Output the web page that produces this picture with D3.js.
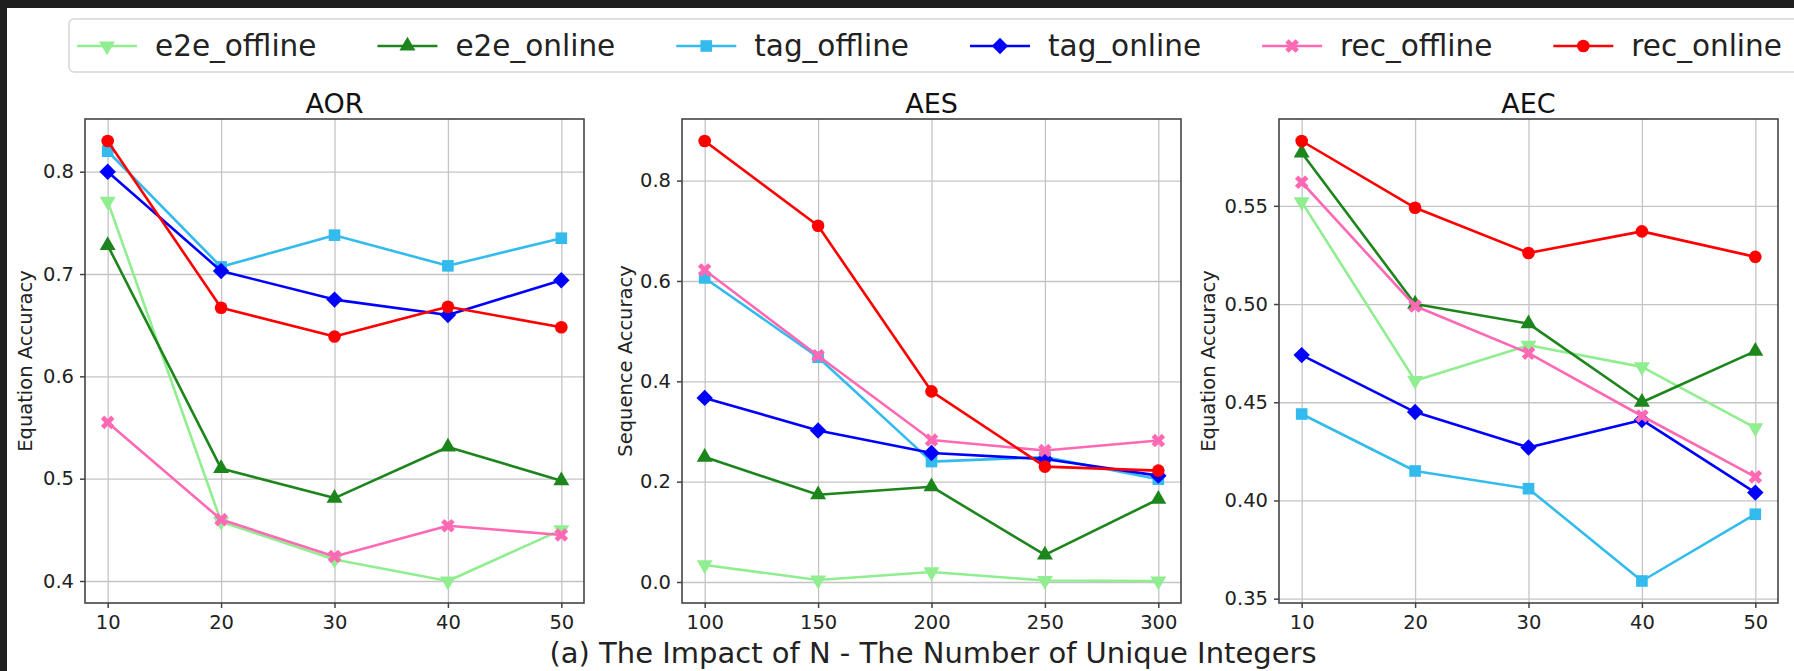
<!DOCTYPE html>
<html>
<head>
<meta charset="utf-8">
<script src="https://cdn.jsdelivr.net/npm/d3@7"></script>
<style>
  body { margin: 0; background: #fff; }
  svg { display: block; font-family: 'DejaVu Sans', sans-serif; }
</style>
</head>
<body>
<svg id="canvas" width="1794" height="671"></svg>
<script>
let seriesNames = ['e2e_offline', 'e2e_online', 'tag_offline', 'tag_online', 'rec_offline', 'rec_online']
let seriesColors = ['#90ee90', '#1c861c', '#33bbee', '#0000ff', '#ff69b4', '#ff0000']
let seriesMarkers = ['triangleDown', 'triangleUp', 'square', 'diamond', 'x', 'circle']

let panelTitles = ['AOR', 'AES', 'AEC']
let panelYLabels = ['Equation Accuracy', 'Sequence Accuracy', 'Equation Accuracy']
let captionText = '(a) The Impact of N - The Number of Unique Integers'

// AOR
let aorX = [10, 20, 30, 40, 50]
let aorValues = [
  [0.771, 0.458, 0.421, 0.400, 0.450],
  [0.728, 0.510, 0.481, 0.531, 0.498],
  [0.820, 0.707, 0.738, 0.708, 0.735],
  [0.800, 0.703, 0.675, 0.660, 0.694],
  [0.555, 0.460, 0.424, 0.454, 0.445],
  [0.830, 0.667, 0.639, 0.668, 0.648]
]
let aorYTicks = [0.4, 0.5, 0.6, 0.7, 0.8]

// AES
let aesX = [100, 150, 200, 250, 300]
let aesValues = [
  [0.034, 0.004, 0.020, 0.003, 0.002],
  [0.249, 0.174, 0.190, 0.054, 0.165],
  [0.606, 0.448, 0.240, 0.249, 0.205],
  [0.367, 0.302, 0.257, 0.245, 0.212],
  [0.622, 0.451, 0.283, 0.262, 0.282],
  [0.879, 0.710, 0.380, 0.230, 0.222]
]
let aesYTicks = [0.0, 0.2, 0.4, 0.6, 0.8]

// AEC
let aecX = [10, 20, 30, 40, 50]
let aecValues = [
  [0.552, 0.461, 0.479, 0.468, 0.437],
  [0.577, 0.500, 0.490, 0.450, 0.476],
  [0.444, 0.415, 0.406, 0.359, 0.393],
  [0.474, 0.445, 0.427, 0.441, 0.404],
  [0.562, 0.499, 0.475, 0.443, 0.412],
  [0.583, 0.549, 0.526, 0.537, 0.524]
]
let aecYTicks = [0.35, 0.40, 0.45, 0.50, 0.55]

let panels = [
  { x: aorX, values: aorValues, yTicks: aorYTicks, fmt: '.1f' },
  { x: aesX, values: aesValues, yTicks: aesYTicks, fmt: '.1f' },
  { x: aecX, values: aecValues, yTicks: aecYTicks, fmt: '.2f' }
]

let canvas = d3.select('#canvas')

// dark frame at top and left of the screenshot
canvas.append('rect').attr('x', 0).attr('y', 0).attr('width', 1794).attr('height', 8).attr('fill', '#1f1f1f')
canvas.append('rect').attr('x', 0).attr('y', 0).attr('width', 7).attr('height', 671).attr('fill', '#1f1f1f')

let panelLeft = 85
let panelWidth = 499
let panelGap = 98
let panelTop = 119
let panelHeight = 484

// pad domain 5% like matplotlib
let padded = (lo, hi) => {
  let m = (hi - lo) * 0.05
  return [lo - m, hi + m]
}

let markerPath = (type) => {
  if (type === 'circle') return { d: d3.symbol(d3.symbolCircle, 125)(), rot: 0 }
  if (type === 'square') return { d: d3.symbol(d3.symbolSquare, 135)(), rot: 0 }
  if (type === 'diamond') return { d: d3.symbol(d3.symbolSquare, 135)(), rot: 45 }
  if (type === 'triangleUp') return { d: d3.symbol(d3.symbolTriangle, 110)(), rot: 0 }
  if (type === 'triangleDown') return { d: d3.symbol(d3.symbolTriangle, 110)(), rot: 180 }
  return { d: d3.symbol(d3.symbolCross, 115)(), rot: 45 }
}

let drawPanel = (p, i) => {
  let left = panelLeft + i * (panelWidth + panelGap)
  let g = canvas.append('g').attr('transform', `translate(${left},${panelTop})`)

  let xs = d3.scaleLinear()
    .domain(padded(d3.min(p.x), d3.max(p.x)))
    .range([0, panelWidth])
  let all = p.values.flat()
  let ys = d3.scaleLinear()
    .domain(padded(d3.min(all), d3.max(all)))
    .range([panelHeight, 0])

  // grid
  g.append('g')
    .attr('class', 'grid')
    .call(d3.axisLeft(ys).tickValues(p.yTicks).tickSize(-panelWidth).tickFormat(''))
  g.append('g')
    .attr('class', 'grid')
    .attr('transform', `translate(0,${panelHeight})`)
    .call(d3.axisBottom(xs).tickValues(p.x).tickSize(-panelHeight).tickFormat(''))
  g.selectAll('.grid .domain').remove()
  g.selectAll('.grid line').attr('stroke', '#c4c4c4').attr('stroke-width', 1.3)

  // lines and markers
  let line = d3.line()
    .x((d, j) => xs(p.x[j]))
    .y((d) => ys(d))

  p.values.forEach((vals, s) => {
    g.append('path')
      .datum(vals)
      .attr('d', line)
      .attr('fill', 'none')
      .attr('stroke', seriesColors[s])
      .attr('stroke-width', 2.6)
      .attr('stroke-linejoin', 'round')
    let mk = markerPath(seriesMarkers[s])
    g.selectAll('.mk' + s)
      .data(vals)
      .enter()
      .append('path')
      .attr('d', mk.d)
      .attr('transform', (d, j) => `translate(${xs(p.x[j])},${ys(d)}) rotate(${mk.rot})`)
      .attr('fill', seriesColors[s])
  })

  // axes
  let ya = g.append('g')
    .call(d3.axisLeft(ys).tickValues(p.yTicks).tickSize(5).tickPadding(6).tickFormat(d3.format(p.fmt)))
  let xa = g.append('g')
    .attr('transform', `translate(0,${panelHeight})`)
    .call(d3.axisBottom(xs).tickValues(p.x).tickSize(5).tickPadding(7).tickFormat(d3.format('d')))
  ;[ya, xa].forEach((a) => {
    a.select('.domain').remove()
    a.selectAll('line').attr('stroke', '#444').attr('stroke-width', 1.5)
    a.selectAll('text').attr('font-size', 19.5).attr('fill', '#222').attr('font-family', 'DejaVu Sans')
  })

  g.append('rect')
    .attr('width', panelWidth)
    .attr('height', panelHeight)
    .attr('fill', 'none')
    .attr('stroke', '#444')
    .attr('stroke-width', 1.6)

  g.append('text')
    .attr('x', panelWidth / 2)
    .attr('y', -6)
    .attr('text-anchor', 'middle')
    .attr('font-size', 27)
    .attr('fill', '#111')
    .text(panelTitles[i])

  let labelX = [-60, -57, -71][i]
  g.append('text')
    .attr('transform', `translate(${labelX},${panelHeight / 2}) rotate(-90)`)
    .attr('dy', '0.35em')
    .attr('text-anchor', 'middle')
    .attr('font-size', 19.5)
    .attr('fill', '#222')
    .text(panelYLabels[i])
}

panels.forEach(drawPanel)

// legend across the top
let legend = canvas.append('g')
legend.append('rect')
  .attr('x', 69)
  .attr('y', 19)
  .attr('width', 1760)
  .attr('height', 53)
  .attr('rx', 5)
  .attr('fill', '#fff')
  .attr('stroke', '#d6d6d6')
  .attr('stroke-width', 1.5)

let cursor = 77
seriesNames.forEach((name, s) => {
  let item = legend.append('g').attr('transform', `translate(${cursor},46)`)
  item.append('line')
    .attr('x1', 0).attr('x2', 60)
    .attr('stroke', seriesColors[s])
    .attr('stroke-width', 2.6)
  let mk = markerPath(seriesMarkers[s])
  item.append('path')
    .attr('d', mk.d)
    .attr('transform', `translate(30,0) rotate(${mk.rot})`)
    .attr('fill', seriesColors[s])
  let t = item.append('text')
    .attr('x', 78)
    .attr('dy', '0.33em')
    .attr('font-size', 29.5)
    .attr('fill', '#222')
    .text(name)
  cursor += 78 + t.node().getComputedTextLength() + 61
})

canvas.append('text')
  .attr('x', 933)
  .attr('y', 663)
  .attr('text-anchor', 'middle')
  .attr('font-size', 29)
  .attr('fill', '#222')
  .text(captionText)
</script>
</body>
</html>
